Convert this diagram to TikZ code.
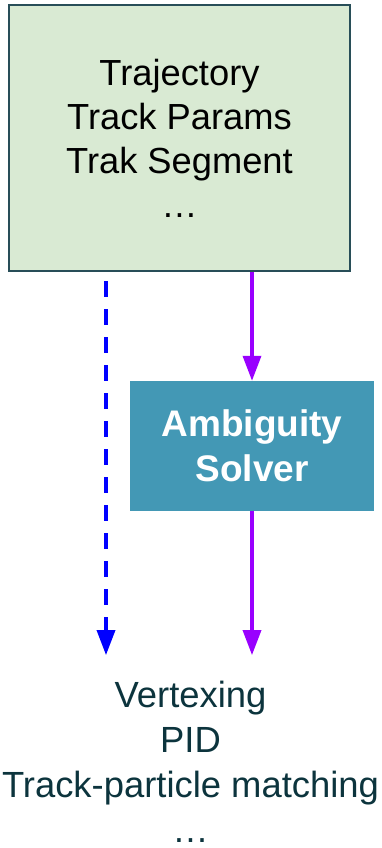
\documentclass[tikz,border=0pt]{standalone}
\usepackage{fontspec}
\setmainfont{Liberation Sans}
\usetikzlibrary{arrows.meta}
\definecolor{boxgreen}{HTML}{D9EAD3}
\definecolor{boxedge}{HTML}{284E58}
\definecolor{solverblue}{HTML}{4398B5}
\definecolor{usetext}{HTML}{0C343D}
\definecolor{flowpurple}{HTML}{9900FF}
\tikzset{
  flow/.style={line width=3.5pt, flowpurple, -{Triangle[width=18pt,length=25pt]}},
  skip/.style={line width=3.5pt, blue, dash pattern=on 16pt off 12pt, -{Triangle[width=18pt,length=25pt]}},
}
\begin{document}
\begin{tikzpicture}[x=1pt,y=-1pt]
\useasboundingbox (0,0) rectangle (381,848);
\node [draw=boxedge, line width=2pt, fill=boxgreen, minimum width=341pt, minimum height=266pt,
  align=center, font=\fontsize{36.3}{44}\selectfont] (traj) at (179.5,138)
  {Trajectory\\Track Params\\Trak Segment\\\ldots};
\node [fill=solverblue, text=white, minimum width=244pt, minimum height=130pt,
  align=center, font=\fontsize{37}{45}\bfseries\selectfont] (amb) at (252,446)
  {Ambiguity\\Solver};
\node [text=usetext, align=center, inner sep=0pt,
  font=\fontsize{36.4}{45}\selectfont] (uses) at (190.5,761.5)
  {Vertexing\\PID\\Track-particle matching\\\ldots};
\coordinate (dashtop) at ([xshift=98pt,yshift=-9pt]traj.south west);
\coordinate (dashend) at (dashtop |- uses.north);
\draw [flow] (amb.north |- traj.south) -- (amb.north);
\draw [flow, shorten >=25.5pt] (amb.south) -- (amb.south |- uses.north);
\draw [skip, shorten >=25.5pt] (dashtop) -- (dashend);
\end{tikzpicture}
\end{document}
